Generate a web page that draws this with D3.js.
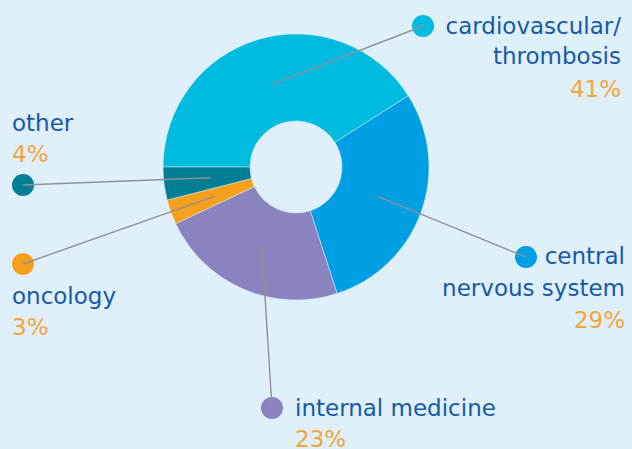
<!DOCTYPE html>
<html><head><meta charset="utf-8">
<script src="https://cdn.jsdelivr.net/npm/d3@7"></script>
<style>
html,body{margin:0;padding:0;background:#dff0fa;}
svg{display:block;}
</style></head>
<body>
<svg id="chart" width="632" height="449"></svg>
<script>
// Data
const categories = ["cardiovascular/\nthrombosis", "central\nnervous system", "internal medicine", "oncology", "other"];
const shares = [41, 29, 23, 3, 4];
const colors = ["#00bbe0", "#009fe3", "#8a83bf", "#f7a01e", "#007e93"];

// Layout (positions of label blocks)
const layout = [
  {dot:[423,26], anchor:"end", x:621, lines:[34,64], pct:97},
  {dot:[526,257], anchor:"end", x:625, lines:[264,296], pct:328},
  {dot:[272,408], anchor:"start", x:295, lines:[416], pct:447},
  {dot:[23,264], anchor:"start", x:12, lines:[304], pct:335},
  {dot:[23,185], anchor:"start", x:12, lines:[131], pct:162}
];

const svg = d3.select("#chart");
const cx = 296, cy = 167, rOuter = 133, rInner = 46;

const pie = d3.pie().sort(null).value(d => d)
  .startAngle(-Math.PI/2).endAngle(3*Math.PI/2);
const arcs = pie(shares);
const arc = d3.arc().innerRadius(rInner).outerRadius(rOuter);
const g = svg.append("g").attr("transform", `translate(${cx},${cy})`);

g.selectAll("path").data(arcs).join("path")
  .attr("d", arc)
  .attr("fill", (d,i) => colors[i])
  .attr("stroke", "#dff0fa").attr("stroke-width", 0.5);

// dots
svg.selectAll("circle.dot").data(arcs).join("circle")
  .attr("class","dot")
  .attr("cx", (d,i) => layout[i].dot[0])
  .attr("cy", (d,i) => layout[i].dot[1])
  .attr("r", 11)
  .attr("fill", (d,i) => colors[i]);

// leader lines
const inner = d3.arc().innerRadius(86).outerRadius(86);
svg.selectAll("line.lead").data(arcs).join("line")
  .attr("class","lead")
  .attr("x1", (d,i) => layout[i].dot[0])
  .attr("y1", (d,i) => layout[i].dot[1])
  .attr("x2", d => cx + inner.centroid(d)[0])
  .attr("y2", d => cy + inner.centroid(d)[1])
  .attr("stroke", "#8f9295").attr("stroke-width", 1.4);

// labels
const font = "'DejaVu Sans', sans-serif";
categories.forEach((c, i) => {
  const L = layout[i];
  c.split("\n").forEach((t, j) => {
    svg.append("text").attr("x", L.x).attr("y", L.lines[j])
      .attr("text-anchor", L.anchor)
      .attr("font-family", font).attr("font-size", 23)
      .attr("fill", "#1659a8").text(t);
  });
  svg.append("text").attr("x", L.x).attr("y", L.pct)
    .attr("text-anchor", L.anchor)
    .attr("font-family", font).attr("font-size", 23)
    .attr("fill", "#f5a43a").text(shares[i] + "%");
});
</script>
</body></html>
